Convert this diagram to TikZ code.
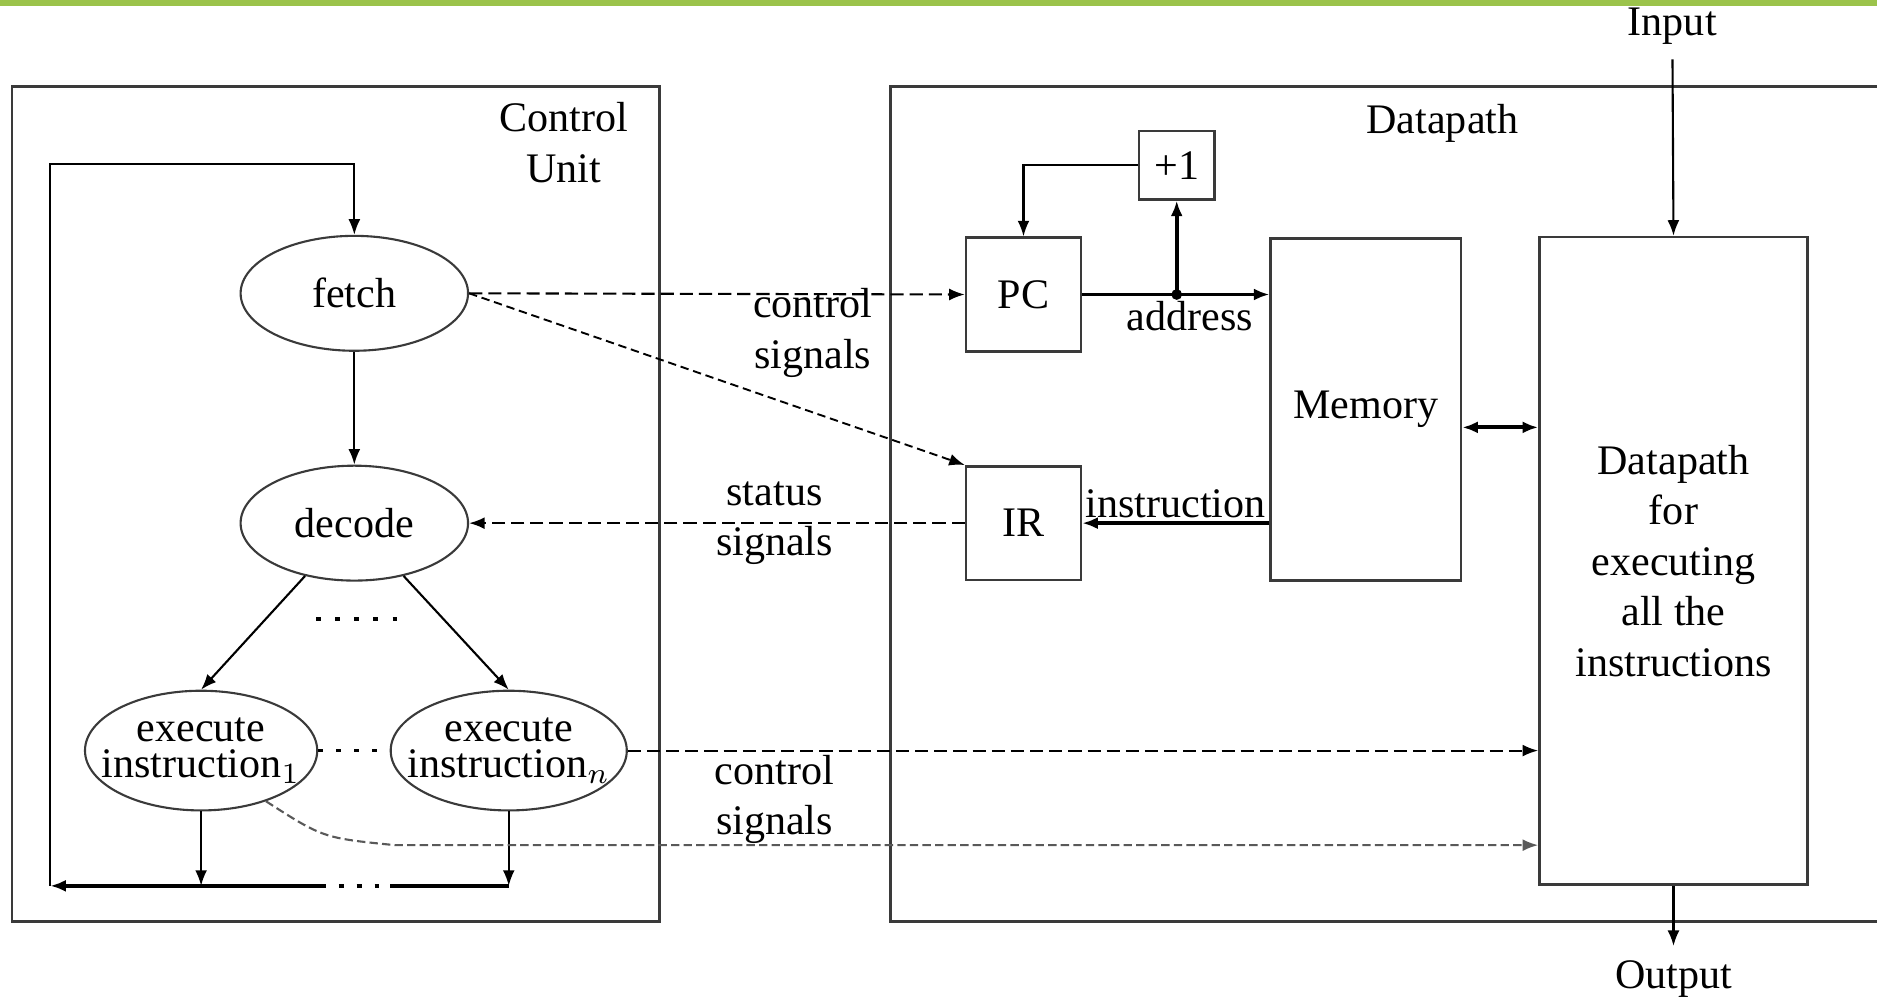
\documentclass[tikz,border=0pt]{standalone}
\usepackage{fontspec}
\setmainfont{Liberation Serif}
\usepackage{tikz}
\usetikzlibrary{arrows.meta,positioning,shapes.geometric}
\definecolor{BarGreen}{HTML}{9BC34B}
\definecolor{BoxGray}{HTML}{3A3A3A}

\begin{document}
\begin{tikzpicture}[x=0.1mm,y=-0.1mm,>={Latex[length=1.3mm,width=1mm]},
  every node/.style={font=\fontsize{10}{12}\selectfont,align=center},
  stage/.style={ellipse,draw=BoxGray,line width=0.5pt,inner xsep=-1.5mm,inner ysep=0pt,
    minimum width=1.9cm,minimum height=0.96cm},
  regbox/.style={draw=BoxGray,line width=0.6pt,inner sep=0pt},
  wire/.style={line width=0.5pt},
  bus/.style={line width=0.9pt},
  sigline/.style={line width=0.5pt,dash pattern=on 1.1mm off 0.5mm},
  thinsig/.style={line width=0.45pt,dash pattern=on 0.7mm off 0.4mm},
  fineline/.style={line width=0.5pt,black!65,dash pattern=on 0.7mm off 0.35mm},
  dotline/.style={line width=0.8pt,dash pattern=on 0.4mm off 1.1mm}]
  \clip (0,0) rectangle (1568,835);
  \fill[BarGreen] (0,0) rectangle (1568,5);
  \node[regbox,line width=0.7pt,minimum width=5.41cm,minimum height=6.98cm] (cu) at (280.5,421) {};
  \node[regbox,line width=0.7pt,minimum width=8.56cm,minimum height=6.98cm] (dp) at (1172,421) {};
  \node (cutitle) at (471,119) {Control\\Unit};
  \node (dptitle) at (1205,103) {Datapath};

  \node[stage] (fetch) at (296,245) {fetch};
  \node[stage] (decode) at (296,437) {decode};
  \node[stage,minimum width=1.94cm,minimum height=1cm] (exec1) at (168,627) {execute\\[-3.5pt]instruction$_1$};
  \node[stage,minimum width=1.94cm,minimum height=1cm] (execn) at (425,627) {execute\\[-3.5pt]instruction$_n$};

  \node[regbox,minimum width=0.63cm,minimum height=0.57cm] (plus1) at (983,138) {+1};
  \node[regbox,minimum width=0.96cm,minimum height=0.95cm] (pc) at (855,246) {PC};
  \node[regbox,minimum width=0.96cm,minimum height=0.95cm] (ir) at (855,437) {IR};
  \node[regbox,minimum width=1.59cm,minimum height=2.86cm] (mem) at (1141,342) {Memory};
  \node[regbox,minimum width=2.24cm,minimum height=5.41cm] (dpexec) at (1398,468.5)
      {Datapath\\for\\executing\\all the\\instructions};
  \node (input) at (1397,22) {Input};
  \node (output) at (1398,818) {Output};

  \node (ctltop) at (679,278) {control\\signals};
  \node (status) at (647,437) {status\\signals};
  \node (ctlbot) at (647,668) {control\\signals};
  \node (addr) at (994,264) {address};
  \node (instr) at (982,421) {instruction};

  \coordinate (loopbl) at (42,740);
  \coordinate (looptl) at (42,137);
  \coordinate (gapl) at (268,740);
  \coordinate (gapr) at (326,740);
  \coordinate (dotsl) at (264,517);
  \coordinate (dotsr) at (334,517);
  \coordinate (fineknee) at (330,706);
  \coordinate (tap) at (plus1.south |- pc.east);

  \draw[wire,->] (loopbl) -- (looptl) -| (fetch.north);
  \draw[wire,->] (fetch) -- (decode);
  \draw[wire,->] (decode.227) -- (exec1.north);
  \draw[wire,->] (decode.313) -- (execn.north);
  \draw[dotline,dash pattern=on 0.4mm off 1.2mm] (dotsl) -- (dotsr);
  \draw[dotline] (exec1.east) -- (execn.west);
  \draw[wire,->] (exec1.south) -- (exec1.south |- loopbl);
  \draw[wire,->] (execn.south) -- (execn.south |- loopbl);
  \draw[bus] (execn.south |- loopbl) -- (gapr);
  \draw[bus,->] (gapl) -- (loopbl);
  \draw[dotline] (gapl) -- (gapr);

  \draw[sigline,->] (fetch.east) -- (pc.west);
  \draw[thinsig,->] (fetch.east) -- (ir.north west);
  \draw[sigline,->] (ir.west) -- (decode.east);
  \draw[sigline,->] (execn.east) -- (execn.east -| dpexec.west);
  \draw[fineline,->] (exec1.-38) .. controls (270,700) .. (fineknee) -- (fineknee -| dpexec.west);

  \draw[bus,->] (pc.east) -- (pc.east -| mem.west);
  \fill (tap) circle (0.45mm);
  \draw[bus,->] (tap) -- (plus1.south);
  \draw[wire,->] (plus1.west) -| (pc.north);
  \draw[bus,->] (mem.west |- ir.east) -- (ir.east);
  \draw[bus,<->] ([yshift=-1.5mm]mem.east) -- ([yshift=-1.5mm]mem.east -| dpexec.west);
  \draw[wire,->] (input) -- (dpexec.north);
  \draw[wire,->] (dpexec.south) -- (output);
\end{tikzpicture}
\end{document}
